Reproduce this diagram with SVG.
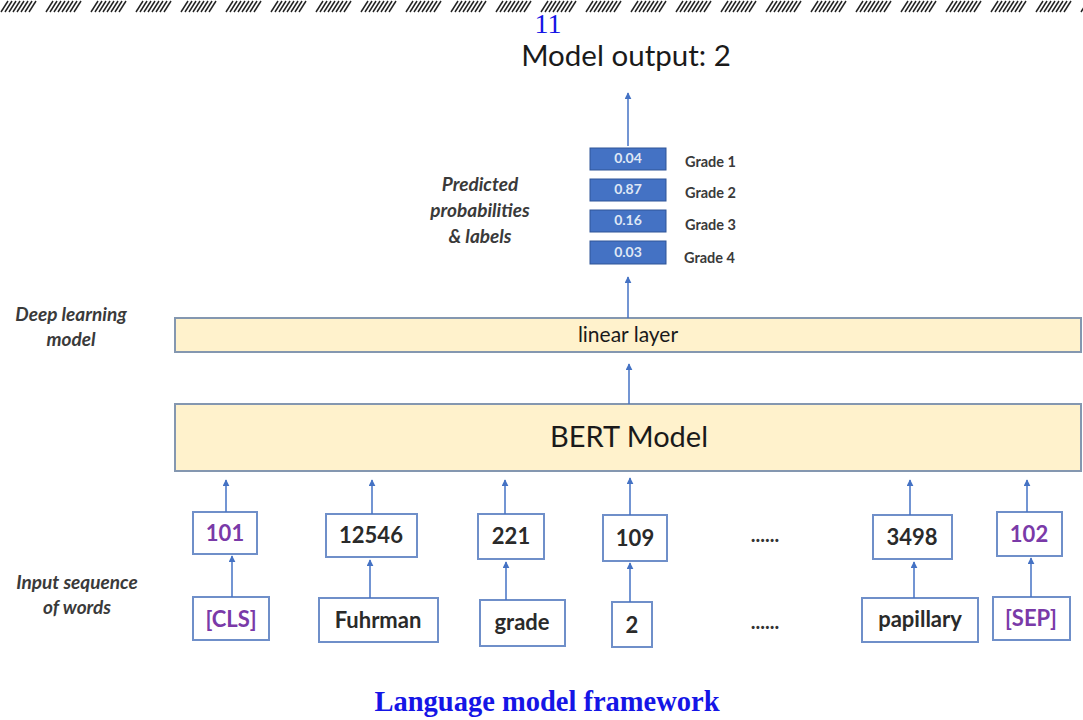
<svg xmlns="http://www.w3.org/2000/svg" width="1083" height="720" viewBox="0 0 1083 720">
  <defs>
    <marker id="arrow" viewBox="0 0 10 10" refX="9" refY="5" markerWidth="7" markerHeight="7" orient="auto" markerUnits="userSpaceOnUse">
      <path d="M0,0 L10,5 L0,10 z" fill="#4472c4"/>
    </marker>
    <pattern id="hatch" x="0" y="0" width="45" height="13" patternUnits="userSpaceOnUse">
      <g stroke="#222" stroke-width="1.5">
        <line x1="1" y1="12" x2="8" y2="1"/>
        <line x1="5" y1="12" x2="12" y2="1"/>
        <line x1="9" y1="12" x2="16" y2="1"/>
        <line x1="13" y1="12" x2="20" y2="1"/>
        <line x1="17" y1="12" x2="24" y2="1"/>
        <line x1="21" y1="12" x2="28" y2="1"/>
        <line x1="25" y1="12" x2="32" y2="1"/>
        <line x1="29" y1="12" x2="36" y2="1"/>
      </g>
    </pattern>
  </defs>
  <style>
    .lbl { font-family: Lato, "Open Sans", sans-serif; fill: #1a1a1a; }
    .ital { font-family: Lato, "Open Sans", sans-serif; font-style: italic; font-weight: bold; fill: #3a3a3a; font-size: 19px; text-anchor: middle; }
    .layer { fill: #fff2cc; stroke: #8497b0; stroke-width: 2; }
    .tok { fill: #fff; stroke: #6f8fc9; stroke-width: 2; }
    .tokt { font-family: Lato, "Open Sans", sans-serif; font-size: 22px; font-weight: bold; text-anchor: middle; fill: #2a2a2a; }
    .purple { fill: #7a3aa8; }
    .prob { fill: #4472c4; stroke: #2f5597; stroke-width: 1; }
    .probt { font-family: Lato, "Open Sans", sans-serif; font-size: 14px; font-weight: bold; text-anchor: middle; fill: #dfe7f5; }
    .grade { font-family: Lato, "Open Sans", sans-serif; font-size: 14.5px; font-weight: bold; fill: #3a3a3a; }
    .conn line { stroke: #4472c4; stroke-width: 1.5; marker-end: url(#arrow); }
    .dots { font-family: Lato, "Open Sans", sans-serif; font-size: 20px; font-weight: bold; fill: #333; text-anchor: middle; }
  </style>

  <rect width="1083" height="720" fill="#fff"/>
  <!-- page header rule -->
  <rect x="0" y="0" width="1083" height="13" fill="url(#hatch)"/>
  <text x="548" y="33" font-family="Liberation Serif, serif" font-size="28" fill="#1515e6" text-anchor="middle">11</text>

  <!-- output -->
  <g id="output">
    <text class="lbl" x="626" y="66" font-size="29.5" text-anchor="middle">Model output: 2</text>
  </g>

  <!-- side labels -->
  <g id="label-predicted">
    <text class="ital" x="480" y="191">Predicted</text>
    <text class="ital" x="480" y="217">probabilities</text>
    <text class="ital" x="480" y="243">&amp; labels</text>
  </g>
  <g id="label-deep">
    <text class="ital" x="71" y="321">Deep learning</text>
    <text class="ital" x="71" y="346">model</text>
  </g>
  <g id="label-input">
    <text class="ital" x="77" y="589">Input sequence</text>
    <text class="ital" x="77" y="614">of words</text>
  </g>

  <!-- probabilities -->
  <g id="probabilities">
    <rect class="prob" x="590" y="148" width="76" height="22"/>
    <text class="probt" x="628" y="163">0.04</text>
    <rect class="prob" x="590" y="179" width="76" height="22"/>
    <text class="probt" x="628" y="194">0.87</text>
    <rect class="prob" x="590" y="210" width="76" height="22"/>
    <text class="probt" x="628" y="225">0.16</text>
    <rect class="prob" x="590" y="241" width="76" height="23"/>
    <text class="probt" x="628" y="257">0.03</text>
    <text class="grade" x="685" y="167">Grade 1</text>
    <text class="grade" x="685" y="198">Grade 2</text>
    <text class="grade" x="685" y="230">Grade 3</text>
    <text class="grade" x="684" y="263">Grade 4</text>
  </g>

  <!-- layers -->
  <g id="linear-layer">
    <rect class="layer" x="175" y="318" width="906" height="34"/>
    <text class="lbl" x="628" y="342" font-size="21" text-anchor="middle">linear layer</text>
  </g>
  <g id="bert-model">
    <rect class="layer" x="175" y="404" width="906" height="67"/>
    <text class="lbl" x="629" y="447" font-size="29" text-anchor="middle">BERT Model</text>
  </g>

  <!-- token ids -->
  <g id="id-101"><rect class="tok" x="193" y="512" width="64" height="42"/><text class="tokt purple" x="225" y="541">101</text></g>
  <g id="id-12546"><rect class="tok" x="326" y="514" width="91" height="43"/><text class="tokt" x="371" y="543">12546</text></g>
  <g id="id-221"><rect class="tok" x="478" y="514" width="66" height="45"/><text class="tokt" x="511" y="544">221</text></g>
  <g id="id-109"><rect class="tok" x="603" y="515" width="64" height="46"/><text class="tokt" x="635" y="546">109</text></g>
  <g id="id-3498"><rect class="tok" x="873" y="515" width="79" height="44"/><text class="tokt" x="912" y="545">3498</text></g>
  <g id="id-102"><rect class="tok" x="997" y="512" width="65" height="44"/><text class="tokt purple" x="1029" y="542">102</text></g>
  <text class="dots" x="765" y="542">......</text>

  <!-- input words -->
  <g id="word-cls"><rect class="tok" x="193" y="597" width="76" height="43"/><text class="tokt purple" x="231" y="627">[CLS]</text></g>
  <g id="word-fuhrman"><rect class="tok" x="319" y="598" width="119" height="44"/><text class="tokt" x="378" y="628">Fuhrman</text></g>
  <g id="word-grade"><rect class="tok" x="480" y="600" width="85" height="46"/><text class="tokt" x="522" y="630">grade</text></g>
  <g id="word-2"><rect class="tok" x="612" y="602" width="40" height="45"/><text class="tokt" x="632" y="633">2</text></g>
  <g id="word-papillary"><rect class="tok" x="862" y="598" width="116" height="44"/><text class="tokt" x="920" y="627">papillary</text></g>
  <g id="word-sep"><rect class="tok" x="993" y="597" width="77" height="43"/><text class="tokt purple" x="1031" y="626">[SEP]</text></g>
  <text class="dots" x="765" y="629">......</text>

  <!-- connectors -->
  <g id="connectors" class="conn">
    <line x1="628" y1="146" x2="628" y2="93"/>
    <line x1="628" y1="318" x2="628" y2="277"/>
    <line x1="629" y1="404" x2="629" y2="364"/>
    <line x1="226" y1="512" x2="226" y2="480"/>
    <line x1="372" y1="514" x2="372" y2="480"/>
    <line x1="505" y1="514" x2="505" y2="480"/>
    <line x1="630" y1="515" x2="630" y2="478"/>
    <line x1="910" y1="515" x2="910" y2="480"/>
    <line x1="1027" y1="512" x2="1027" y2="480"/>
    <line x1="232" y1="597" x2="232" y2="556"/>
    <line x1="370" y1="598" x2="370" y2="560"/>
    <line x1="506" y1="600" x2="506" y2="562"/>
    <line x1="630" y1="602" x2="630" y2="563"/>
    <line x1="914" y1="598" x2="914" y2="562"/>
    <line x1="1031" y1="597" x2="1031" y2="558"/>
  </g>

  <!-- caption -->
  <text x="547" y="711" font-family="Liberation Serif, serif" font-size="28.5" font-weight="bold" fill="#1515e6" text-anchor="middle">Language model framework</text>
</svg>
